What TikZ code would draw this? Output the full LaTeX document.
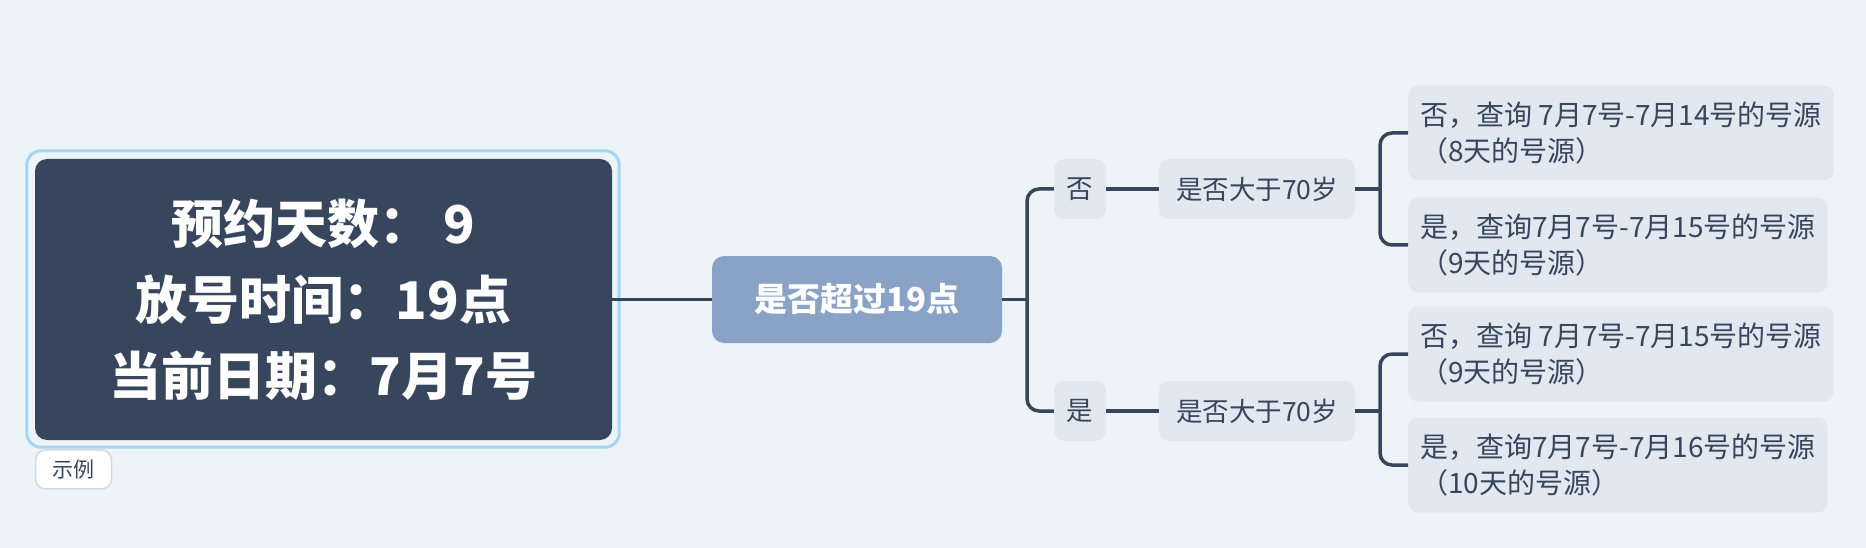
\documentclass[tikz,border=0pt]{standalone}
\usepackage{fontspec}
\setmainfont{Noto Sans CJK SC}
\usetikzlibrary{positioning}
\definecolor{bgpale}{HTML}{EDF4F8}
\definecolor{slate}{HTML}{37465C}
\definecolor{selblue}{HTML}{A3D6F5}
\definecolor{askblue}{HTML}{8AA2C6}
\definecolor{chip}{HTML}{E1E8F0}
\definecolor{tagline}{HTML}{D3D9E0}
\tikzset{
  rootbox/.style={fill=slate, text=white, rounded corners=12pt, align=center,
    font=\bfseries\fontsize{52}{76}\selectfont, minimum width=577pt, minimum height=281pt},
  askbox/.style={fill=askblue, text=white, rounded corners=12pt,
    font=\bfseries\fontsize{33}{38}\selectfont, minimum width=290pt, minimum height=87pt},
  chipbox/.style={fill=chip, text=slate, rounded corners=10pt,
    font=\fontsize{26.5}{30}\selectfont, minimum height=60pt},
  leafbox/.style={fill=chip, text=slate, rounded corners=10pt, anchor=west, align=left,
    font=\fontsize{28}{36}\selectfont, inner xsep=12pt, minimum height=95pt},
  tagbox/.style={fill=white, draw=tagline, line width=1.5pt, text=slate, rounded corners=10pt,
    font=\fontsize{21}{24}\selectfont, minimum width=76pt, minimum height=39pt},
  conn/.style={draw=slate, line width=3.5pt, rounded corners=12pt},
}

\begin{document}
\begin{tikzpicture}[x=1pt, y=-1pt]
  \useasboundingbox[fill=bgpale] (0,0) rectangle (1866,548);

  % root and its tag
  \node[rootbox] (root) at (323.5,299.5) {预约天数： 9\\放号时间：19点\\当前日期：7月7号};
  \draw[selblue, line width=3pt, rounded corners=14pt]
    ([shift={(-8pt,8pt)}]root.north west) rectangle ([shift={(7pt,-7pt)}]root.south east);
  \node[tagbox, below right=9pt and 0pt of root.south west] (tag) {示例};

  % first question
  \node[askbox] (ask) at (857,299.5) {是否超过19点};
  \coordinate (fork) at (1027,299.5);

  \node[chipbox, minimum width=52pt] (no) at (1080,189) {否};
  \node[chipbox, minimum width=52pt] (yes) at (1080,411) {是};
  \node[chipbox, minimum width=196pt] (ageno) at (1257,189) {是否大于70岁};
  \node[chipbox, minimum width=196pt] (ageyes) at (1257,411) {是否大于70岁};

  % answers
  \node[leafbox] (noA) at (1408,133) {否，查询 7月7号-7月14号的号源\\（8天的号源）};
  \node[leafbox] (noB) at (1408,245) {是，查询7月7号-7月15号的号源\\（9天的号源）};
  \node[leafbox] (yesA) at (1408,354) {否，查询 7月7号-7月15号的号源\\（9天的号源）};
  \node[leafbox] (yesB) at (1408,465) {是，查询7月7号-7月16号的号源\\（10天的号源）};
  \coordinate (forkno) at (1380,189);
  \coordinate (forkyes) at (1380,411);

  % connectors
  \draw[conn] (root.east) -- (ask.west);
  \draw[conn] (ask.east) -- (fork);
  \draw[conn] (no.west) -| (fork) |- (yes.west);
  \draw[conn] (no.east) -- (ageno.west);
  \draw[conn] (yes.east) -- (ageyes.west);
  \draw[conn] (ageno.east) -- (forkno);
  \draw[conn] (ageyes.east) -- (forkyes);
  \draw[conn] (noA.west) -| (forkno) |- (noB.west);
  \draw[conn] (yesA.west) -| (forkyes) |- (yesB.west);
\end{tikzpicture}
\end{document}
